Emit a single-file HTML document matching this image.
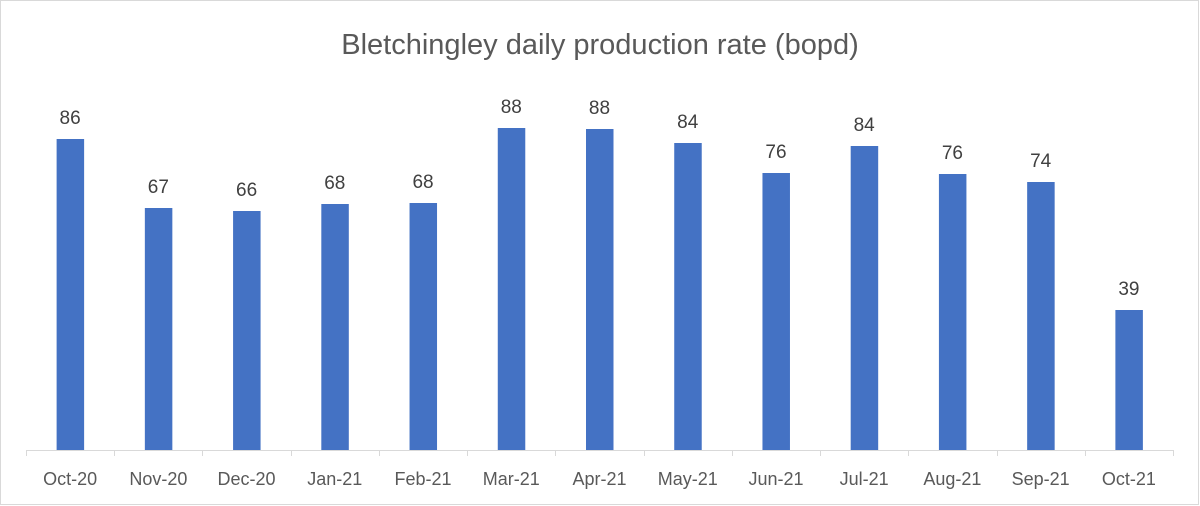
<!DOCTYPE html>
<html><head><meta charset="utf-8"><style>
body{margin:0;background:#fff}
svg{display:block;font-family:"Liberation Sans",Calibri,sans-serif}
</style></head><body>
<svg width="1200" height="506" viewBox="0 0 1200 506">
<rect x="0.5" y="0.5" width="1198" height="504" fill="#fff" stroke="#d9d9d9"/>
<text x="600" y="54" font-size="29" fill="#595959" text-anchor="middle">Bletchingley daily production rate (bopd)</text>
<g fill="#4472c4" id="bars"></g>
<g stroke="#d9d9d9" stroke-width="1" id="ax"></g>
<g font-size="19" fill="#404040" text-anchor="middle" id="vals"></g>
<g font-size="18" fill="#595959" text-anchor="middle" id="cats"></g>
</svg>
<script>
var tops=[139,208,211,204,203,128,129,143,173,146,174,182,310];
var v=[86,67,66,68,68,88,88,84,76,84,76,74,39];
var c=["Oct-20","Nov-20","Dec-20","Jan-21","Feb-21","Mar-21","Apr-21","May-21","Jun-21","Jul-21","Aug-21","Sep-21","Oct-21"];
var ns="http://www.w3.org/2000/svg",x0=26,w=(1173-26)/13,base=450;
function el(t,a,p,txt){var e=document.createElementNS(ns,t);for(var k in a)e.setAttribute(k,a[k]);if(txt)e.textContent=txt;document.getElementById(p).appendChild(e);}
el("line",{x1:x0,y1:base+0.5,x2:1173,y2:base+0.5},"ax");
for(var i=0;i<=13;i++){var x=Math.round(x0+i*w)+0.5;el("line",{x1:x,y1:base,x2:x,y2:base+6},"ax");}
for(var i=0;i<13;i++){var cx=x0+(i+0.5)*w;
el("rect",{x:cx-13.5,y:tops[i],width:27.5,height:base-tops[i]},"bars");
el("text",{x:cx,y:tops[i]-15},"vals",String(v[i]));
el("text",{x:cx,y:485},"cats",c[i]);}
</script>
</body></html>
